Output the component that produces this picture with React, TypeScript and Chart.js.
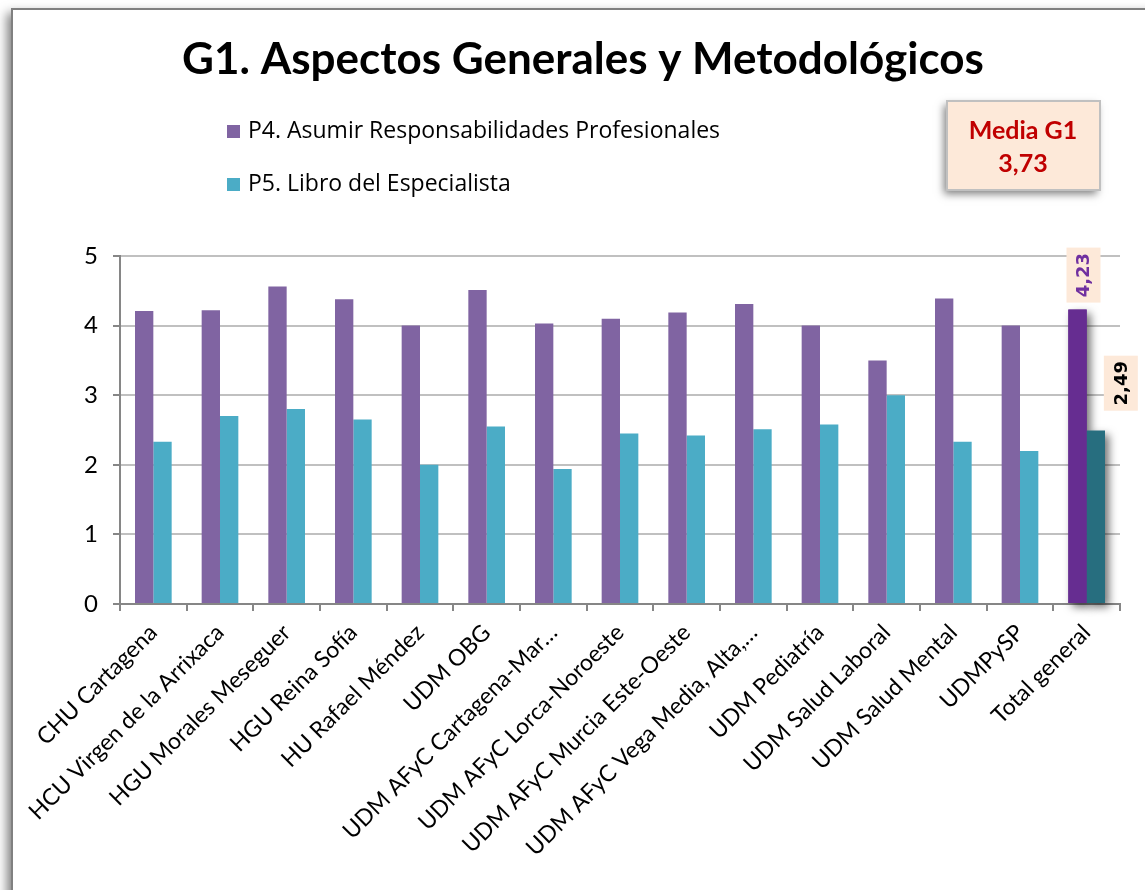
import React, { useEffect, useRef } from "react";
import { Chart, registerables } from "chart.js";

Chart.register(...registerables);

const chartTitle = "G1. Aspectos Generales y Metodológicos";
const categories = [
  "CHU Cartagena",
  "HCU Virgen de la Arrixaca",
  "HGU Morales Meseguer",
  "HGU Reina Sofía",
  "HU Rafael Méndez",
  "UDM OBG",
  "UDM AFyC Cartagena-Mar…",
  "UDM AFyC Lorca-Noroeste",
  "UDM AFyC Murcia Este-Oeste",
  "UDM AFyC Vega Media, Alta,…",
  "UDM Pediatría",
  "UDM Salud Laboral",
  "UDM Salud Mental",
  "UDMPySP",
  "Total general",
];
const seriesNames = ["P4. Asumir Responsabilidades Profesionales", "P5. Libro del Especialista"];
const p4Values = [4.21, 4.22, 4.56, 4.38, 4.0, 4.51, 4.03, 4.1, 4.19, 4.31, 4.0, 3.5, 4.39, 4.0, 4.23];
const p5Values = [2.33, 2.7, 2.8, 2.65, 2.0, 2.55, 1.94, 2.45, 2.42, 2.51, 2.58, 3.0, 2.33, 2.2, 2.49];
const totalLabels = ["4,23", "2,49"];
const yMin = 0;
const yMax = 5;
const yStep = 1;
const mediaTitle = "Media G1";
const mediaValue = "3,73";

const P4_COLOR = "#8064a2";
const P4_TOTAL = "#662d91";
const P5_COLOR = "#4bacc6";
const P5_TOTAL = "#276e7f";

const lastIdx = categories.length - 1;

const framePlugin = {
  id: "frame",
  beforeDraw(chart: any) {
    const ctx = chart.ctx;
    ctx.save();
    ctx.fillStyle = "#ffffff";
    ctx.fillRect(0, 0, chart.width, chart.height);
    ctx.shadowColor = "rgba(0,0,0,0.5)";
    ctx.shadowBlur = 10;
    ctx.shadowOffsetX = -5;
    ctx.shadowOffsetY = 4;
    ctx.fillStyle = "#ffffff";
    ctx.fillRect(12, 9, chart.width + 40, chart.height + 40);
    ctx.restore();
    ctx.save();
    ctx.strokeStyle = "#808080";
    ctx.lineWidth = 2;
    ctx.strokeRect(12, 9, chart.width + 40, chart.height + 40);
    ctx.restore();
  },
};

const decorPlugin = {
  id: "decor",
  beforeDatasetsDraw(chart: any) {
    const ctx = chart.ctx;
    ctx.save();
    ctx.shadowColor = "rgba(0,0,0,0.55)";
    ctx.shadowBlur = 8;
    ctx.shadowOffsetX = 4;
    ctx.shadowOffsetY = 4;
    [0, 1].forEach((di) => {
      const el: any = chart.getDatasetMeta(di).data[lastIdx];
      if (!el) return;
      const w = el.width;
      ctx.fillStyle = di === 0 ? P4_TOTAL : P5_TOTAL;
      ctx.fillRect(el.x - w / 2, el.y, w, el.base - el.y);
    });
    ctx.restore();
  },
  afterDatasetsDraw(chart: any) {
    const ctx = chart.ctx;
    const e0: any = chart.getDatasetMeta(0).data[lastIdx];
    const e1: any = chart.getDatasetMeta(1).data[lastIdx];
    const drawBox = (cx: number, bottom: number, text: string, color: string) => {
      const bw = 34;
      const bh = 55;
      ctx.save();
      ctx.fillStyle = "#fde9d9";
      ctx.fillRect(cx - bw / 2, bottom - bh, bw, bh);
      ctx.translate(cx, bottom - bh / 2);
      ctx.rotate(-Math.PI / 2);
      ctx.fillStyle = color;
      ctx.font = "bold 18px 'DejaVu Sans'";
      ctx.textAlign = "center";
      ctx.textBaseline = "middle";
      ctx.fillText(text, 0, 1);
      ctx.restore();
    };
    if (e0) drawBox(e0.x + 6, e0.y - 7, totalLabels[0], "#7030a0");
    if (e1) drawBox(e1.x + 25, e1.y - 20, totalLabels[1], "#000000");

    // Title
    ctx.save();
    ctx.fillStyle = "#000000";
    ctx.font = "bold 44px Lato";
    ctx.textAlign = "center";
    ctx.textBaseline = "middle";
    ctx.fillText(chartTitle, 583, 60);
    ctx.restore();

    // Legend
    const colors = [P4_COLOR, P5_COLOR];
    seriesNames.forEach((name, i) => {
      const y = 131 + i * 53;
      ctx.save();
      ctx.fillStyle = colors[i];
      ctx.fillRect(227, y - 6, 13, 13);
      ctx.fillStyle = "#000000";
      ctx.font = "23px 'Open Sans'";
      ctx.textAlign = "left";
      ctx.textBaseline = "middle";
      ctx.fillText(name, 248, y);
      ctx.restore();
    });

    // Media box
    ctx.save();
    ctx.shadowColor = "rgba(0,0,0,0.5)";
    ctx.shadowBlur = 8;
    ctx.shadowOffsetX = -3;
    ctx.shadowOffsetY = 4;
    ctx.fillStyle = "#fde9d9";
    ctx.fillRect(947, 101, 153, 89);
    ctx.restore();
    ctx.save();
    ctx.strokeStyle = "#c0c0c0";
    ctx.lineWidth = 2;
    ctx.strokeRect(947, 101, 153, 89);
    ctx.fillStyle = "#c00000";
    ctx.font = "bold 25px Lato";
    ctx.textAlign = "center";
    ctx.textBaseline = "middle";
    ctx.fillText(mediaTitle, 1023, 131);
    ctx.fillText(mediaValue, 1023, 164);
    ctx.restore();
  },
};

export default function App() {
  const ref = useRef<HTMLCanvasElement>(null);
  useEffect(() => {
    if (!ref.current) return;
    const chart = new Chart(ref.current, {
      type: "bar",
      data: {
        labels: categories,
        datasets: [
          {
            label: seriesNames[0],
            data: p4Values,
            backgroundColor: p4Values.map((_, i) => (i === lastIdx ? P4_TOTAL : P4_COLOR)),
            barPercentage: 1,
            categoryPercentage: 0.55,
          },
          {
            label: seriesNames[1],
            data: p5Values,
            backgroundColor: p5Values.map((_, i) => (i === lastIdx ? P5_TOTAL : P5_COLOR)),
            barPercentage: 1,
            categoryPercentage: 0.55,
          },
        ],
      },
      options: {
        responsive: false,
        animation: false,
        devicePixelRatio: 1,
        layout: { padding: { top: 256, left: 0, right: 25, bottom: 0 } },
        plugins: {
          legend: { display: false },
          title: { display: false },
          tooltip: { enabled: false },
        },
        scales: {
          x: {
            offset: true,
            grid: {
              offset: true,
              drawOnChartArea: false,
              drawTicks: true,
              tickLength: 7,
              color: "#868686",
              lineWidth: 2,
            },
            border: { color: "#868686", width: 2 },
            ticks: {
              autoSkip: false,
              maxRotation: 45,
              minRotation: 45,
              color: "#000000",
              font: { family: "Lato", size: 23 },
              padding: 8,
            },
            afterFit: (s: any) => {
              s.height = 286;
            },
          },
          y: {
            min: yMin,
            max: yMax,
            ticks: {
              stepSize: yStep,
              color: "#000000",
              font: { family: "Lato", size: 24 },
              padding: 15,
            },
            grid: {
              color: "#c0c0c0",
              lineWidth: 2,
              tickColor: "#868686",
              tickLength: 7,
            },
            border: { color: "#868686", width: 2 },
            afterFit: (s: any) => {
              s.width = 120;
            },
          },
        },
      },
      plugins: [framePlugin, decorPlugin],
    });
    return () => chart.destroy();
  }, []);
  return (
    <div style={{ position: "fixed", left: 0, top: 0, width: 1145, height: 890, background: "#fff" }}>
      <canvas ref={ref} width={1145} height={890} />
    </div>
  );
}
